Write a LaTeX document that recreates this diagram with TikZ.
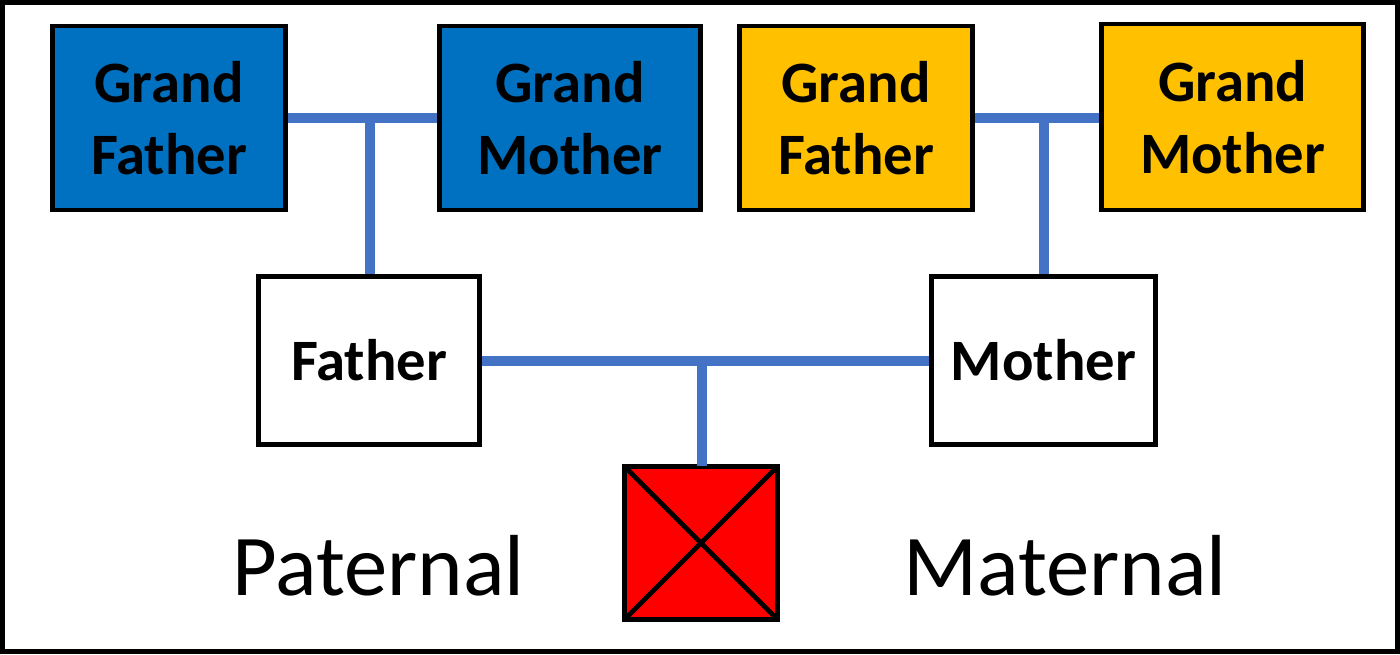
\documentclass[tikz,border=0pt]{standalone}
\usepackage{fontspec}
\setmainfont{Carlito}
\definecolor{linkblue}{HTML}{4472C4}
\definecolor{patblue}{HTML}{0070C0}
\definecolor{matgold}{HTML}{FFC000}
\definecolor{childred}{HTML}{FF0000}
\begin{document}
\begin{tikzpicture}[x=0.75pt,y=-0.75pt,
  person/.style={draw=black,line width=3.6pt,inner sep=0pt,align=center,
    font=\fontsize{44}{54}\selectfont\bfseries},
  link/.style={draw=linkblue,line width=7.5pt},
  sidelabel/.style={inner sep=0pt,anchor=base,font=\fontsize{65}{72}\selectfont}]
\useasboundingbox (0,0) rectangle (1400,654);
\draw[line width=3.75pt] (2.5,2.5) rectangle (1397.5,651.5);
% grandparents
\node[person,fill=patblue,minimum width=233*0.75pt,minimum height=184*0.75pt] (gfp) at (169,118) {Grand\\Father};
\node[person,fill=patblue,minimum width=261*0.75pt,minimum height=184*0.75pt] (gmp) at (570,118) {Grand\\Mother};
\node[person,fill=matgold,minimum width=233*0.75pt,minimum height=184*0.75pt] (gfm) at (856,118) {Grand\\Father};
\node[person,fill=matgold,minimum width=262*0.75pt,minimum height=186*0.75pt] (gmm) at (1232.5,117) {Grand\\Mother};
% parents
\node[person,fill=white,minimum width=221*0.75pt,minimum height=168*0.75pt] (father) at (369,360.5) {Father};
\node[person,fill=white,minimum width=224*0.75pt,minimum height=168*0.75pt] (mother) at (1043.5,360.5) {Mother};
% child
\node[fill=childred,inner sep=0pt,minimum width=153*0.75pt,minimum height=153*0.75pt] (child) at (701,543) {};
\begin{scope}
  \clip (child.north west) rectangle (child.south east);
  \draw[line width=3.6pt] (child.north west) -- (child.south east);
  \draw[line width=3.6pt] (child.north east) -- (child.south west);
\end{scope}
\draw[line width=3.9pt] (child.north west) rectangle (child.south east);
% connectors
\coordinate (jp) at (370,118);
\coordinate (jm) at (1044,118);
\coordinate (jc) at (702,361);
\draw[link] (gfp.east |- jp) -- (gmp.west |- jp);
\draw[link] (jp) -- (father.north -| jp);
\draw[link] (gfm.east |- jm) -- (gmm.west |- jm);
\draw[link] (jm) -- (mother.north -| jm);
\draw[link] (father.east |- jc) -- (mother.west |- jc);
\draw[link] (jc) -- (child.north -| jc);
% labels
\node[sidelabel] (pat) at (378.5,595) {Paternal};
\node[sidelabel] (mat) at (1065,595) {Maternal};
\end{tikzpicture}
\end{document}
